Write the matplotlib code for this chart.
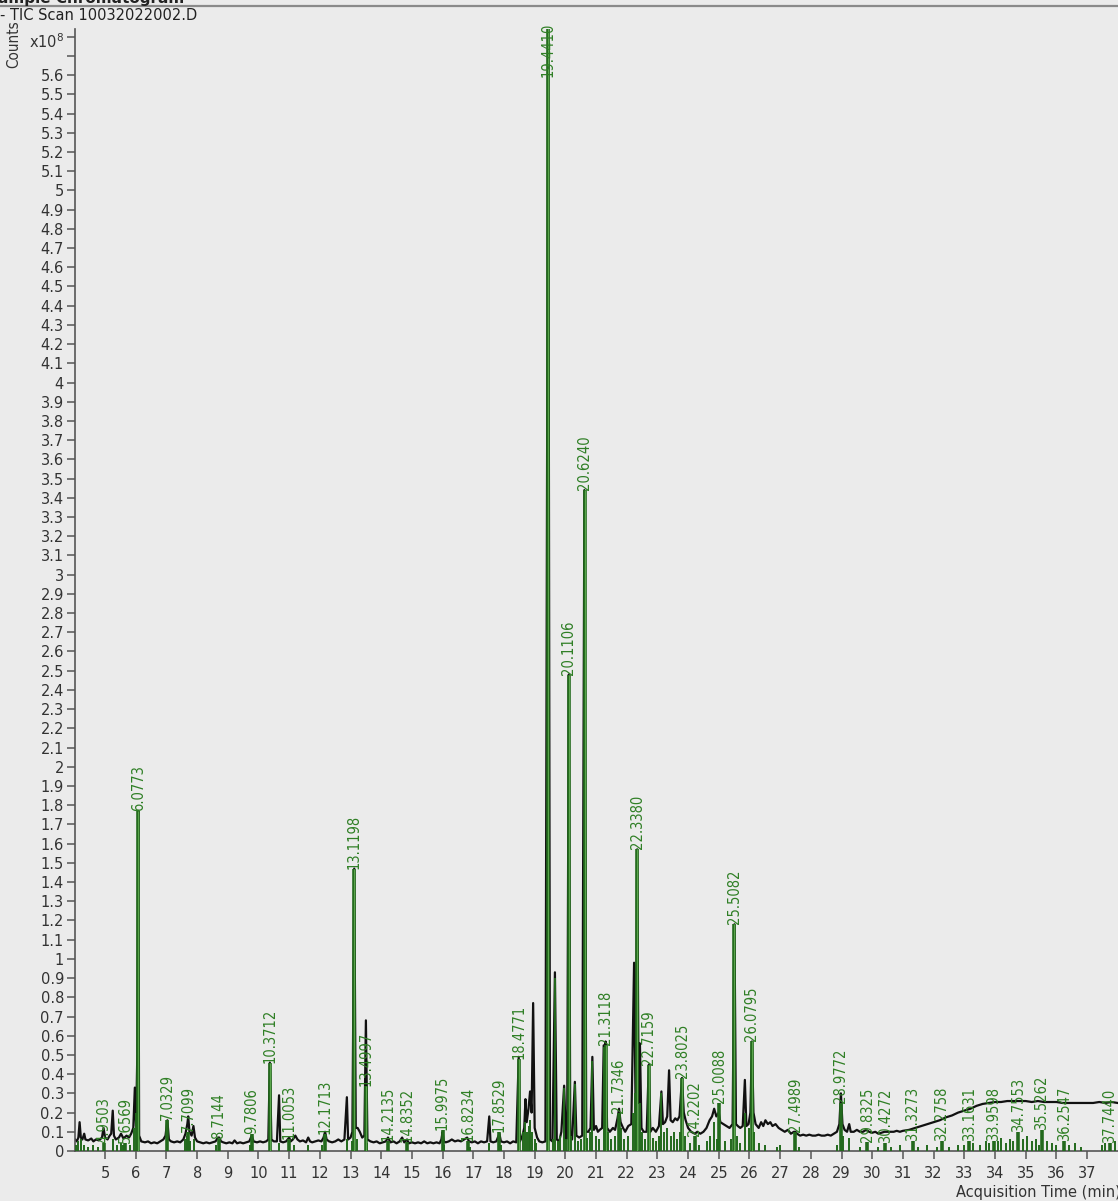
import matplotlib
matplotlib.use("Agg")
import matplotlib.pyplot as plt
from matplotlib.lines import Line2D

# ---------------- data (counts in units of 1e8) ----------------
tic_time = [
    4.02, 4.08, 4.13, 4.17, 4.21, 4.26, 4.32, 4.36, 4.45, 4.55, 4.62, 4.70, 4.80, 4.90, 4.95, 5.00,
    5.08, 5.15, 5.20, 5.25, 5.29, 5.35, 5.45, 5.52, 5.60, 5.70, 5.78, 5.85, 5.92, 5.97, 6.01, 6.05,
    6.08, 6.11, 6.18, 6.30, 6.40, 6.50, 6.60, 6.70, 6.80, 6.90, 6.97, 7.03, 7.08, 7.15, 7.25, 7.35,
    7.45, 7.55, 7.62, 7.68, 7.71, 7.75, 7.82, 7.88, 7.93, 8.00, 8.10, 8.20, 8.30, 8.40, 8.50, 8.60,
    8.68, 8.72, 8.78, 8.85, 8.95, 9.05, 9.15, 9.22, 9.30, 9.40, 9.50, 9.60, 9.70, 9.78, 9.84, 9.95,
    10.05, 10.15, 10.25, 10.32, 10.37, 10.42, 10.50, 10.60, 10.67, 10.71, 10.80, 10.90, 11.00, 11.05,
    11.12, 11.20, 11.27, 11.35, 11.45, 11.55, 11.62, 11.68, 11.75, 11.85, 11.95, 12.05, 12.12, 12.17,
    12.22, 12.30, 12.40, 12.50, 12.60, 12.70, 12.80, 12.88, 12.92, 13.00, 13.06, 13.12, 13.17, 13.23,
    13.30, 13.38, 13.45, 13.50, 13.55, 13.65, 13.75, 13.85, 13.95, 14.05, 14.15, 14.22, 14.30, 14.40,
    14.50, 14.60, 14.68, 14.75, 14.84, 14.90, 15.00, 15.10, 15.20, 15.30, 15.40, 15.50, 15.60, 15.70,
    15.80, 15.90, 15.96, 16.00, 16.04, 16.10, 16.20, 16.30, 16.40, 16.50, 16.60, 16.70, 16.80, 16.86,
    16.95, 17.05, 17.15, 17.25, 17.35, 17.45, 17.52, 17.56, 17.65, 17.75, 17.85, 17.90, 18.00, 18.10,
    18.20, 18.30, 18.40, 18.48, 18.52, 18.60, 18.66, 18.70, 18.74, 18.80, 18.85, 18.90, 18.95, 19.00,
    19.08, 19.15, 19.25, 19.35, 19.44, 19.50, 19.58, 19.66, 19.72, 19.80, 19.87, 19.96, 20.02, 20.06,
    20.11, 20.16, 20.22, 20.31, 20.36, 20.45, 20.55, 20.62, 20.68, 20.75, 20.82, 20.88, 20.93, 21.00,
    21.06, 21.12, 21.20, 21.25, 21.29, 21.31, 21.36, 21.45, 21.55, 21.62, 21.70, 21.75, 21.80, 21.88,
    21.95, 22.05, 22.15, 22.24, 22.29, 22.34, 22.39, 22.43, 22.48, 22.55, 22.65, 22.72, 22.77, 22.85,
    22.95, 23.05, 23.13, 23.18, 23.25, 23.32, 23.38, 23.43, 23.50, 23.58, 23.65, 23.72, 23.80, 23.86,
    23.92, 24.00, 24.10, 24.22, 24.30, 24.40, 24.50, 24.60, 24.70, 24.78, 24.85, 24.92, 25.00, 25.05,
    25.15, 25.25, 25.35, 25.45, 25.51, 25.56, 25.62, 25.70, 25.78, 25.85, 25.90, 25.97, 26.03, 26.08,
    26.13, 26.20, 26.30, 26.38, 26.45, 26.52, 26.60, 26.68, 26.75, 26.85, 26.95, 27.05, 27.15, 27.25,
    27.35, 27.45, 27.50, 27.55, 27.65, 27.75, 27.85, 27.95, 28.05, 28.15, 28.25, 28.35, 28.45, 28.55,
    28.65, 28.75, 28.85, 28.93, 28.98, 29.03, 29.10, 29.18, 29.25, 29.30, 29.40, 29.50, 29.60, 29.70,
    29.80, 29.90, 30.00, 30.10, 30.20, 30.30, 30.40, 30.50, 30.60, 30.70, 30.80, 30.90, 31.00, 31.20,
    31.40, 31.60, 31.80, 32.00, 32.20, 32.40, 32.60, 32.80, 33.00, 33.20, 33.40, 33.60, 33.80, 34.00,
    34.20, 34.40, 34.60, 34.80, 35.00, 35.20, 35.40, 35.60, 35.80, 36.00, 36.20, 36.40, 36.60, 36.80,
    37.00, 37.20, 37.40, 37.60, 37.80, 38.00,
]
tic_counts = [
    0.06, 0.05, 0.07, 0.15, 0.07, 0.06, 0.09, 0.06, 0.055, 0.065, 0.05, 0.06, 0.055, 0.07, 0.12, 0.07,
    0.06, 0.08, 0.09, 0.21, 0.08, 0.06, 0.07, 0.09, 0.065, 0.08, 0.07, 0.09, 0.12, 0.33, 0.13, 0.5,
    1.77, 0.08, 0.05, 0.045, 0.05, 0.04, 0.045, 0.04, 0.05, 0.06, 0.08, 0.16, 0.06, 0.05, 0.045, 0.05,
    0.045, 0.06, 0.09, 0.14, 0.18, 0.10, 0.08, 0.13, 0.07, 0.05, 0.045, 0.04, 0.045, 0.04, 0.045, 0.05,
    0.07, 0.07, 0.05, 0.045, 0.04, 0.045, 0.04, 0.055, 0.04, 0.045, 0.04, 0.045, 0.05, 0.08, 0.05, 0.045,
    0.05, 0.045, 0.05, 0.06, 0.46, 0.06, 0.05, 0.05, 0.29, 0.05, 0.045, 0.05, 0.07, 0.05,
    0.06, 0.08, 0.06, 0.05, 0.055, 0.045, 0.07, 0.05, 0.045, 0.05, 0.055, 0.05, 0.07, 0.10,
    0.06, 0.05, 0.045, 0.05, 0.06, 0.05, 0.06, 0.28, 0.06, 0.07, 0.10, 1.47, 0.12, 0.12,
    0.10, 0.07, 0.08, 0.68, 0.06, 0.05, 0.045, 0.05, 0.04, 0.045, 0.05, 0.07, 0.045, 0.05,
    0.04, 0.05, 0.07, 0.045, 0.06, 0.04, 0.045, 0.04, 0.045, 0.04, 0.05, 0.04, 0.045, 0.04,
    0.045, 0.04, 0.06, 0.10, 0.05, 0.045, 0.05, 0.06, 0.05, 0.055, 0.05, 0.06, 0.07, 0.05,
    0.045, 0.05, 0.04, 0.05, 0.045, 0.05, 0.18, 0.05, 0.045, 0.05, 0.09, 0.05, 0.045, 0.05,
    0.04, 0.05, 0.045, 0.49, 0.05, 0.08, 0.12, 0.27, 0.15, 0.22, 0.31, 0.20, 0.77, 0.12,
    0.07, 0.05, 0.045, 0.05, 5.90, 0.06, 0.05, 0.93, 0.06, 0.05, 0.10, 0.34, 0.06, 0.07,
    2.48, 0.07, 0.06, 0.36, 0.08, 0.07, 0.08, 3.44, 0.10, 0.10, 0.12, 0.49, 0.11, 0.13,
    0.10, 0.11, 0.12, 0.55, 0.13, 0.57, 0.12, 0.10, 0.12, 0.11, 0.17, 0.22, 0.15, 0.12,
    0.10, 0.13, 0.14, 0.98, 0.20, 1.57, 0.25, 0.56, 0.12, 0.10, 0.10, 0.45, 0.10, 0.12,
    0.10, 0.13, 0.31, 0.14, 0.15, 0.18, 0.42, 0.16, 0.15, 0.17, 0.16, 0.18, 0.38, 0.20,
    0.16, 0.12, 0.10, 0.09, 0.10, 0.09, 0.10, 0.12, 0.16, 0.18, 0.22, 0.18, 0.20, 0.15,
    0.14, 0.13, 0.12, 0.14, 1.18, 0.14, 0.13, 0.12, 0.13, 0.37, 0.13, 0.14, 0.20, 0.57,
    0.20, 0.14, 0.12, 0.15, 0.13, 0.16, 0.14, 0.15, 0.13, 0.14, 0.12, 0.11, 0.10, 0.11,
    0.09, 0.10, 0.10, 0.09, 0.08, 0.085, 0.08, 0.085, 0.08, 0.08, 0.085, 0.08, 0.08, 0.085,
    0.08, 0.09, 0.10, 0.14, 0.30, 0.14, 0.11, 0.10, 0.14, 0.10, 0.10, 0.11, 0.10, 0.10,
    0.11, 0.10, 0.095, 0.10, 0.09, 0.095, 0.10, 0.10, 0.10, 0.10, 0.105, 0.10, 0.105, 0.11,
    0.12, 0.13, 0.14, 0.15, 0.16, 0.175, 0.185, 0.20, 0.21, 0.22, 0.235, 0.245, 0.25, 0.255,
    0.255, 0.26, 0.26, 0.26, 0.26, 0.255, 0.26, 0.255, 0.255, 0.255, 0.25, 0.25, 0.25, 0.25,
    0.25, 0.25, 0.255, 0.25, 0.255, 0.25,
]

# labelled (integrated) peaks
peak_labels = [
    "4.9503", "5.6569", "6.0773", "7.0329", "7.7099", "8.7144", "9.7806", "10.3712", "11.0053",
    "12.1713", "13.1198", "13.4997", "14.2135", "14.8352", "15.9975", "16.8234", "17.8529",
    "18.4771", "19.4410", "20.1106", "20.6240", "21.3118", "21.7346", "22.3380", "22.7159",
    "23.8025", "24.2202", "25.0088", "25.5082", "26.0795", "27.4989", "28.9772", "29.8325",
    "30.4272", "31.3273", "32.2758", "33.1631", "33.9598", "34.7553", "35.5262", "36.2547",
    "37.7440",
]
peak_heights = [
    0.04, 0.04, 1.77, 0.16, 0.10, 0.065, 0.09, 0.46, 0.065,
    0.09, 1.47, 0.34, 0.05, 0.045, 0.11, 0.05, 0.10,
    0.48, 5.90, 2.48, 3.44, 0.55, 0.20, 1.57, 0.45,
    0.38, 0.08, 0.25, 1.18, 0.57, 0.10, 0.25, 0.045,
    0.04, 0.05, 0.05, 0.05, 0.05, 0.10, 0.11, 0.05,
    0.04,
]

# small unlabelled green component spikes
spike_time = [
    4.05, 4.12, 4.20, 4.30, 4.45, 4.62, 4.78, 5.25, 5.40, 5.52, 5.60, 5.82, 5.95, 6.02, 7.60, 7.66,
    7.78, 7.90, 8.62, 9.72, 10.67, 11.15, 11.62, 12.06, 12.88, 13.06, 13.20, 13.55, 16.05, 16.90,
    17.52, 17.90, 18.62, 18.68, 18.74, 18.80, 18.86, 18.92, 19.00, 19.05, 19.60, 19.66, 19.75, 19.83,
    19.96, 20.02, 20.20, 20.31, 20.40, 20.50, 20.70, 20.80, 20.88, 21.00, 21.10, 21.25, 21.40, 21.50,
    21.62, 21.80, 21.90, 22.05, 22.20, 22.28, 22.43, 22.50, 22.60, 22.85, 22.95, 23.05, 23.13, 23.20,
    23.30, 23.45, 23.55, 23.65, 23.72, 23.90, 24.05, 24.35, 24.60, 24.72, 24.85, 24.95, 25.20, 25.40,
    25.60, 25.70, 25.85, 26.00, 26.15, 26.30, 26.50, 26.90, 27.00, 27.60, 28.85, 29.05, 29.25, 29.60,
    30.20, 30.60, 30.90, 31.50, 31.80, 32.10, 32.50, 32.80, 33.00, 33.30, 33.50, 33.70, 33.80, 34.10,
    34.20, 34.35, 34.50, 34.60, 34.90, 35.05, 35.20, 35.35, 35.45, 35.70, 35.85, 36.00, 36.40, 36.60,
    36.80, 37.50, 37.60, 37.90,
]
spike_height = [
    0.03, 0.05, 0.06, 0.03, 0.02, 0.03, 0.02, 0.06, 0.03, 0.04, 0.03, 0.03, 0.12, 0.20, 0.06, 0.08,
    0.05, 0.06, 0.03, 0.03, 0.04, 0.03, 0.03, 0.03, 0.06, 0.05, 0.06, 0.04, 0.03, 0.02,
    0.04, 0.03, 0.10, 0.15, 0.10, 0.13, 0.16, 0.10, 0.06, 0.04, 0.06, 0.90, 0.05, 0.08,
    0.33, 0.06, 0.08, 0.35, 0.05, 0.06, 0.07, 0.10, 0.47, 0.08, 0.06, 0.54, 0.10, 0.06,
    0.08, 0.12, 0.06, 0.08, 0.20, 0.30, 0.25, 0.10, 0.06, 0.07, 0.05, 0.08, 0.30, 0.10,
    0.12, 0.08, 0.10, 0.06, 0.10, 0.08, 0.04, 0.03, 0.05, 0.08, 0.15, 0.06, 0.05, 0.06,
    0.08, 0.04, 0.20, 0.12, 0.10, 0.04, 0.03, 0.02, 0.03, 0.02, 0.03, 0.08, 0.07, 0.02,
    0.02, 0.02, 0.03, 0.02, 0.03, 0.02, 0.02, 0.03, 0.03, 0.04, 0.03, 0.05, 0.04, 0.05,
    0.07, 0.04, 0.06, 0.05, 0.06, 0.08, 0.05, 0.06, 0.03, 0.05, 0.04, 0.03, 0.03, 0.04,
    0.02, 0.03, 0.04, 0.05,
]

x_ticks = list(range(5, 38))
y_ticks = [round(0.1 * i, 1) for i in range(0, 57)]
y_tick_labels = [("%g" % v) for v in y_ticks]

# ---------------- figure ----------------
W, H = 1118, 1201
BG = "#ebebeb"
DARK_GREEN = "#22691c"
LIGHT_GREEN = "#5aa64c"
LABEL_GREEN = "#2f7f25"

fig = plt.figure(figsize=(W / 100, H / 100), dpi=100, facecolor=BG)
ax_left, ax_bottom_px, ax_top_px = 75, 1151, 29
ax = fig.add_axes([ax_left / W, (H - ax_bottom_px) / H, 1 - ax_left / W,
                   (ax_bottom_px - ax_top_px) / H])
ax.set_facecolor(BG)
XMIN, XMAX, YMAX = 4.02, 38.01, 5.84
ax.set_xlim(XMIN, XMAX)
ax.set_ylim(0, YMAX)

# black TIC trace
ax.plot(tic_time, tic_counts, color="#111111", lw=1.6, zorder=2)

# green small spikes
ax.vlines(spike_time, 0, spike_height, color=DARK_GREEN, lw=1.4, zorder=3)

# labelled peaks
peak_rt = [float(s) for s in peak_labels]
ax.vlines(peak_rt, 0, peak_heights, color=DARK_GREEN, lw=2.6, zorder=4)
big = [(t, h) for t, h in zip(peak_rt, peak_heights) if h > 0.3]
ax.vlines([b[0] for b in big], 0, [b[1] for b in big], color=LIGHT_GREEN, lw=0.8, zorder=5)

label_len = 0.25  # label length in data units (fits under top of axes)
for lab, t, h in zip(peak_labels, peak_rt, peak_heights):
    y = min(h, YMAX - label_len)
    ax.text(t, y, lab, rotation=90, ha="center", va="bottom", color=LABEL_GREEN,
            fontsize=10.5, family="DejaVu Sans", fontstretch="condensed", zorder=6,
            clip_on=False)

# axes styling
for s in ("top", "right"):
    ax.spines[s].set_visible(False)
for s in ("left", "bottom"):
    ax.spines[s].set_color("#555555")
    ax.spines[s].set_linewidth(1.2)

ax.set_xticks(x_ticks)
ax.set_xticklabels([str(v) for v in x_ticks])
ax.set_yticks(y_ticks + [5.7, 5.8])
ax.set_yticklabels(y_tick_labels + ["", ""])
ax.tick_params(axis="both", direction="out", length=6, width=1.1, color="#555555",
               labelsize=10.5, labelcolor="#333333", pad=2)
ax.tick_params(axis="x", pad=5)

# header texts
fig.text(-0.012, 1 - 3 / H, "Sample Chromatogram", ha="left", va="baseline",
         fontsize=11, fontweight="bold", color="#222222")
fig.add_artist(Line2D([0, 1], [1 - 5.5 / H, 1 - 5.5 / H], color="#8a8a8a", lw=1.6,
                      transform=fig.transFigure))
fig.text(0.0, 1 - 16 / H, "- TIC Scan 10032022002.D", ha="left", va="center",
         fontsize=10.5, color="#222222")
fig.text(14 / W, 1 - 44 / H, "Counts", rotation=90, ha="center", va="center",
         fontsize=11, fontstretch="condensed", color="#333333")
fig.text(47 / W, 1 - 42 / H, r"x10$^{8}$", ha="center", va="center",
         fontsize=10.5, color="#333333")
fig.text(1121 / W, 1 - 1193 / H, "Acquisition Time (min)", ha="right", va="center",
         fontsize=10.5, color="#333333")

fig.savefig("out.png", dpi=100, facecolor=BG)
